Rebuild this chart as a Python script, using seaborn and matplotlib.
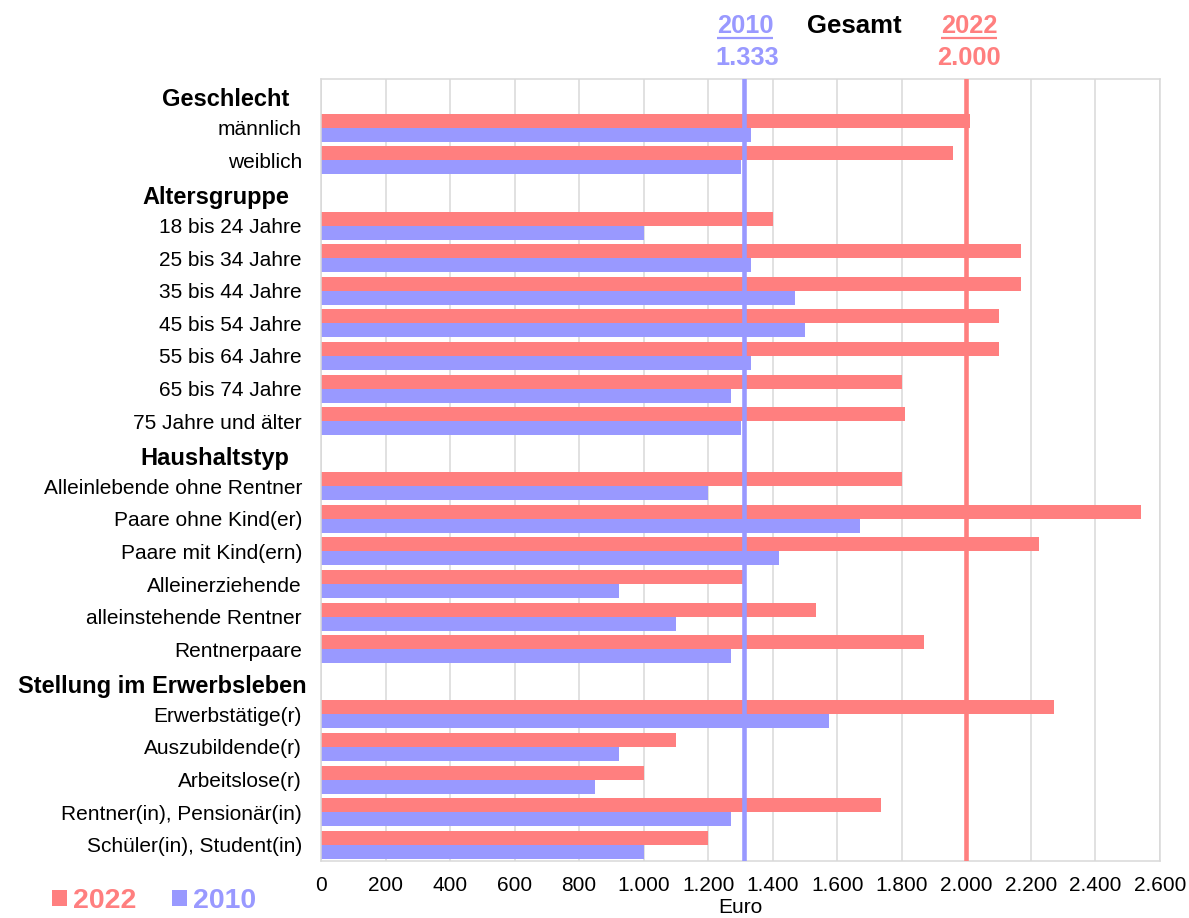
import numpy as np
import pandas as pd
import matplotlib
matplotlib.use("Agg")
import matplotlib.pyplot as plt
import matplotlib.transforms as mtransforms
from matplotlib.patches import Patch
import seaborn as sns

# ---------------- data ----------------
headers = ["Geschlecht", "Altersgruppe", "Haushaltstyp", "Stellung im Erwerbsleben"]
rows = [
    "Geschlecht", "männlich", "weiblich",
    "Altersgruppe", "18 bis 24 Jahre", "25 bis 34 Jahre", "35 bis 44 Jahre",
    "45 bis 54 Jahre", "55 bis 64 Jahre", "65 bis 74 Jahre", "75 Jahre und älter",
    "Haushaltstyp", "Alleinlebende ohne Rentner", "Paare ohne Kind(er)",
    "Paare mit Kind(ern)", "Alleinerziehende", "alleinstehende Rentner", "Rentnerpaare",
    "Stellung im Erwerbsleben", "Erwerbstätige(r)", "Auszubildende(r)",
    "Arbeitslose(r)", "Rentner(in), Pensionär(in)", "Schüler(in), Student(in)",
]
categories = [r for r in rows if r not in headers]
values_2022 = [2010, 1960,
               1400, 2170, 2170, 2100, 2100, 1800, 1810,
               1800, 2540, 2225, 1310, 1535, 1870,
               2270, 1100, 1000, 1735, 1200]
values_2010 = [1333, 1300,
               1000, 1333, 1470, 1500, 1333, 1270, 1300,
               1200, 1670, 1420, 925, 1100, 1270,
               1575, 925, 850, 1270, 1000]
years = ["2022", "2010"]
gesamt_lines = [2000, 1310]          # position of the "Gesamt" reference lines
gesamt_labels = ["2.000", "1.333"]
x_ticks = list(range(0, 2601, 200))

RED = "#FF7F7F"
BLUE = "#9999FF"
GRID = "#d9d9d9"

df = pd.DataFrame({
    "Kategorie": categories * 2,
    "Euro": values_2022 + values_2010,
    "Jahr": ["2022"] * len(categories) + ["2010"] * len(categories),
})

# ---------------- figure ----------------
sns.set_style("white")
plt.rcParams["font.family"] = ["Liberation Sans", "DejaVu Sans"]
plt.rcParams["text.color"] = "black"
plt.rcParams["axes.labelcolor"] = "black"

W, H = 1189, 918
fig = plt.figure(figsize=(W / 100, H / 100), dpi=100)
ax = fig.add_axes([321 / W, 1 - 861 / H, (1160 - 321) / W, (861 - 79) / H])

sns.barplot(data=df, y="Kategorie", x="Euro", hue="Jahr", order=rows,
            hue_order=years, palette={"2022": RED, "2010": BLUE},
            orient="h", width=0.86, dodge=True, ax=ax, legend=False,
            linewidth=0, errorbar=None, saturation=1)

# reference lines
ax.axvline(gesamt_lines[0], color=RED, lw=3.3, zorder=5)
ax.axvline(gesamt_lines[1], color=BLUE, lw=3.3, zorder=5)

# axes styling
ax.set_xlim(0, 2600)
ax.set_ylim(len(rows) - 0.5, -0.5)
ax.set_xticks(x_ticks)
ax.set_xticklabels([f"{v:,}".replace(",", ".") for v in x_ticks], fontsize=15)
ax.set_yticks(range(len(rows)))
ax.set_yticklabels(rows, fontsize=15)
ax.set_yticks(np.arange(-0.5, len(rows), 1), minor=True)
ax.tick_params(axis="y", which="major", length=0, pad=13.7, labelcolor="black")
ax.tick_params(axis="y", which="minor", length=4.3, width=1.1, color=GRID, direction="out")
ax.tick_params(axis="x", which="major", length=4, width=1.1, color=GRID,
               direction="out", pad=7, labelcolor="black")
ax.set_ylabel("")
ax.set_xlabel("Euro", fontsize=15, labelpad=2, color="black")

ax.xaxis.grid(True, color=GRID, lw=1.1)
ax.yaxis.grid(False)
ax.set_axisbelow(True)
for s in ax.spines.values():
    s.set_color(GRID)
    s.set_linewidth(1.1)

# header labels in bold, shifted
for lab in ax.get_yticklabels():
    t = lab.get_text()
    if t in headers:
        lab.set_fontweight("bold")
        lab.set_fontsize(17)
        dx = 4.5 if t == "Stellung im Erwerbsleben" else -13
        lab.set_transform(lab.get_transform() +
                          mtransforms.ScaledTranslation(dx / 100, -2 / 100, fig.dpi_scale_trans))

# top annotations
bt = mtransforms.blended_transform_factory(ax.transData, ax.transAxes)
ax.text(1314, 1.0588, "2010", transform=bt, ha="center", va="baseline",
        fontsize=18.3, fontweight="bold", color=BLUE, clip_on=False)
ax.text(1321, 1.0179, gesamt_labels[1], transform=bt, ha="center", va="baseline",
        fontsize=18.3, fontweight="bold", color=BLUE, clip_on=False)
ax.plot([1314 - 87, 1314 + 87], [1.0518, 1.0518], transform=bt, color=BLUE,
        lw=1.6, clip_on=False, solid_capstyle="butt")
ax.text(1653, 1.0588, "Gesamt", transform=bt, ha="center", va="baseline",
        fontsize=18.5, fontweight="bold", color="black", clip_on=False)
ax.text(2008, 1.0588, "2022", transform=bt, ha="center", va="baseline",
        fontsize=18.3, fontweight="bold", color=RED, clip_on=False)
ax.text(2008, 1.0179, gesamt_labels[0], transform=bt, ha="center", va="baseline",
        fontsize=18.3, fontweight="bold", color=RED, clip_on=False)
ax.plot([2008 - 87, 2008 + 87], [1.0518, 1.0518], transform=bt, color=RED,
        lw=1.6, clip_on=False, solid_capstyle="butt")

# legend
handles = [Patch(facecolor=RED, edgecolor="none", label="2022"),
           Patch(facecolor=BLUE, edgecolor="none", label="2010")]
fig.legend(handles=handles, loc="center left",
           bbox_to_anchor=(52 / W, 1 - 901 / H), ncol=2, frameon=False,
           borderpad=0, borderaxespad=0, handlelength=0.53, handleheight=0.49,
           handletextpad=0.21, columnspacing=1.26, labelcolor="linecolor",
           prop={"weight": "bold", "size": 20.5})

fig.savefig("out.png", dpi=100)
